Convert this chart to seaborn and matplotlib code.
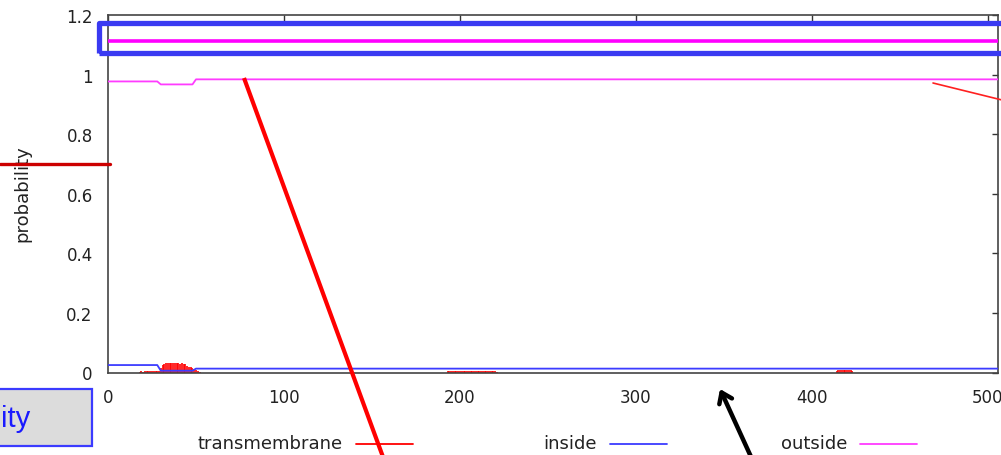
import numpy as np
import pandas as pd
import matplotlib
matplotlib.use("Agg")
import matplotlib.pyplot as plt
import seaborn as sns
from matplotlib.patches import Rectangle, FancyArrowPatch
from matplotlib.lines import Line2D

# ---------------- data ----------------
outside_pos = [0, 28, 30, 48, 50, 506]
outside_prob = [0.977, 0.977, 0.967, 0.967, 0.984, 0.984]
inside_pos = [0, 28, 30, 48, 50, 506]
inside_prob = [0.025, 0.025, 0.006, 0.006, 0.013, 0.013]

tm_pos_a = list(range(18, 53))
tm_prob_a = [0.003, 0.004, 0.003, 0.005, 0.004, 0.005, 0.004, 0.006, 0.005, 0.006, 0.005, 0.006,
             0.015, 0.024,
             0.030, 0.032, 0.033, 0.031, 0.033, 0.032, 0.033, 0.031, 0.032, 0.030, 0.031, 0.030, 0.029,
             0.022, 0.019, 0.017, 0.015, 0.012, 0.008,
             0.004, 0.002]
tm_pos_b = list(range(193, 222))
tm_prob_b = [0.004, 0.006, 0.005, 0.006, 0.004, 0.006, 0.005, 0.006, 0.005, 0.004,
             0.006, 0.005, 0.006, 0.004, 0.005, 0.006, 0.005, 0.004, 0.006, 0.005,
             0.004, 0.006, 0.005, 0.004, 0.006, 0.005, 0.004, 0.005, 0.003]
tm_pos_c = list(range(414, 424))
tm_prob_c = [0.005, 0.007, 0.008, 0.009, 0.009, 0.009, 0.008, 0.008, 0.007, 0.005]

highlight_level = 1.113

x_ticks = [0, 100, 200, 300, 400, 500]
y_ticks = [0, 0.2, 0.4, 0.6, 0.8, 1.0, 1.2]
y_tick_labels = ["0", "0.2", "0.4", "0.6", "0.8", "1", "1.2"]
legend_labels = ["transmembrane", "inside", "outside"]
y_label = "probability"
button_text = "ity"

# ---------------- style ----------------
C_TM = "#ff0000"
C_IN = "#3c3cff"
C_OUT = "#ff3cff"
C_TXT = "#222222"

sns.set_style("white")
plt.rcParams["font.family"] = ["DejaVu Sans"]

W, H = 1001, 456
fig = plt.figure(figsize=(W / 100, H / 100), dpi=100)
ax = fig.add_axes([108 / W, 1 - 373.5 / H, (998 - 108) / W, 357.5 / H])


def P(x, y):
    return (x / W, 1 - y / H)


tm = pd.DataFrame({"pos": tm_pos_a + tm_pos_b + tm_pos_c,
                   "prob": tm_prob_a + tm_prob_b + tm_prob_c})
ax.vlines(tm["pos"], 0, tm["prob"], color=C_TM, lw=1.2, zorder=2)

sns.lineplot(x=inside_pos, y=inside_prob, color=C_IN, lw=1.3, ax=ax, zorder=3)
sns.lineplot(x=outside_pos, y=outside_prob, color=C_OUT, lw=1.3, ax=ax, zorder=3)
ax.axhline(highlight_level, color="#ff00ff", lw=2.6, zorder=4)

ax.set_xlim(0, 505.7)
ax.set_ylim(0, 1.2)
ax.set_xticks(x_ticks)
ax.set_xticklabels([str(t) for t in x_ticks])
ax.set_yticks(y_ticks)
ax.set_yticklabels(y_tick_labels)
ax.tick_params(direction="in", length=4, width=1, colors="#333333", labelcolor=C_TXT,
               labelsize=12, top=True, right=True)
ax.tick_params(axis="y", pad=11)
ax.tick_params(axis="x", pad=11)
for s in ax.spines.values():
    s.set_color("#444444")
    s.set_linewidth(1.2)
ax.set_xlabel("")
ax.set_ylabel("")

fig.text(*P(22, 194), y_label, rotation=90, ha="center", va="center",
         fontsize=13, color=C_TXT)

# legend (gnuplot-style key under the plot)
legend_colors = [C_TM, C_IN, C_OUT]
legend_text_right = [343, 597, 847]
for lab, col, xr in zip(legend_labels, legend_colors, legend_text_right):
    fig.text(*P(xr, 444), lab, ha="right", va="center", fontsize=13, color=C_TXT)
    x0, y0 = P(xr + 13, 445)
    x1, _ = P(xr + 70, 445)
    fig.add_artist(Line2D([x0, x1], [y0, y0], color=col, lw=1.3))

# ---------------- annotation overlays ----------------
# blue highlight rectangle
rx0, ry0 = P(99, 54.3)
rx1, ry1 = P(1010, 24.2)
fig.add_artist(Rectangle((rx0, ry0), rx1 - rx0, ry1 - ry0, transform=fig.transFigure,
                         fill=False, edgecolor="#3a3af2", lw=3.8, joinstyle="round",
                         clip_on=False, zorder=10))
# dark red horizontal mark
a, b = P(0, 165)
c, d = P(110, 165)
fig.add_artist(Line2D([a, c], [b, d], color="#cc0000", lw=2.4, zorder=10))
# big red diagonal line
a, b = P(244, 79)
c, d = P(383, 458)
fig.add_artist(Line2D([a, c], [b, d], color="#ff0000", lw=3.0, zorder=10,
                      solid_capstyle="butt"))
# thin red line at right
a, b = P(933, 84)
c, d = P(1002, 101)
fig.add_artist(Line2D([a, c], [b, d], color="#ff2020", lw=1.2, zorder=10))
# black arrow
fig.add_artist(FancyArrowPatch(P(752, 460), P(720, 390), transform=fig.transFigure,
                               arrowstyle="->,head_length=7,head_width=5",
                               color="black", lw=3.2, zorder=10,
                               shrinkA=0, shrinkB=0))
# button fragment
bx0, by0 = P(-5, 447)
bx1, by1 = P(92, 389.5)
fig.add_artist(Rectangle((bx0, by0), bx1 - bx0, by1 - by0, transform=fig.transFigure,
                         facecolor="#dcdcdc", edgecolor="#3b3bff", lw=1.6, zorder=9))
fig.text(*P(1, 419), button_text, ha="left", va="center", fontsize=21,
         color="#1a1aff", family=["Liberation Sans", "DejaVu Sans"], zorder=11)

fig.savefig("out.png", dpi=100)
